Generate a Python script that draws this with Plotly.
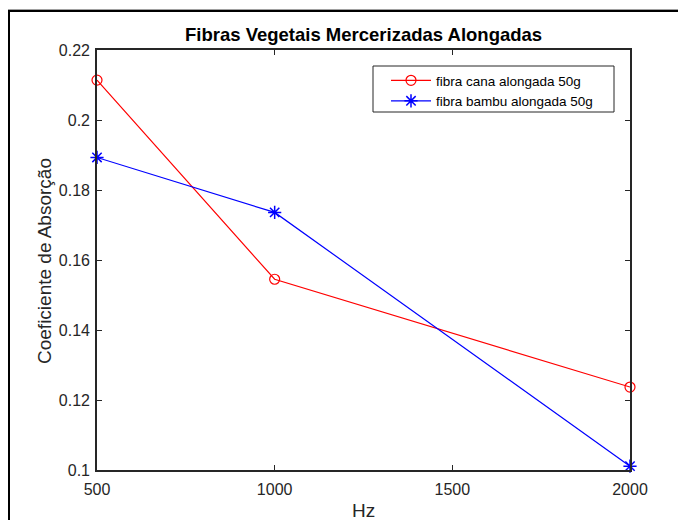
import plotly.graph_objects as go

# Data
freq = [500, 1000, 2000]
cana = [0.2114, 0.1545, 0.1237]
bambu = [0.1893, 0.1736, 0.1011]
series_names = ["fibra cana alongada 50g", "fibra bambu alongada 50g"]
x_ticks = [500, 1000, 1500, 2000]
y_ticks = [0.1, 0.12, 0.14, 0.16, 0.18, 0.2, 0.22]
y_tick_text = ["0.1", "0.12", "0.14", "0.16", "0.18", "0.2", "0.22"]
title_text = "Fibras Vegetais Mercerizadas Alongadas"
x_label = "Hz"
y_label = "Coeficiente de Absorção"

OFF = 8  # page body margin
W, H = 686 - OFF, 520 - OFF
# plot area in page pixels
PL, PR, PT, PB = 97, 630, 50, 470
L, R, T, B = PL - OFF, PR - OFF, PT - OFF, PB - OFF


def px2paper_x(px):  # page px -> paper
    return (px - PL) / (PR - PL)


def px2paper_y(py):
    return (PB - py) / (PB - PT)


FONT = "Liberation Sans, Arial, sans-serif"
AX = "#262626"

fig = go.Figure()
fig.add_trace(go.Scatter(
    x=freq, y=cana, name=series_names[0], mode="lines+markers",
    line=dict(color="#ff0000", width=1.2),
    marker=dict(symbol="circle-open", size=10, color="#ff0000", line=dict(width=1.2, color="#ff0000")),
    cliponaxis=False,
))
fig.add_trace(go.Scatter(
    x=freq, y=bambu, name=series_names[1], mode="lines+markers",
    line=dict(color="#0000ff", width=1.2),
    marker=dict(symbol="asterisk-open", size=11, color="#0000ff", line=dict(width=1.5, color="#0000ff")),
    cliponaxis=False,
))

axis_common = dict(
    showline=True, linecolor=AX, linewidth=1.6, mirror="ticks",
    ticks="inside", ticklen=5, tickwidth=1.3, tickcolor=AX,
    showgrid=False, zeroline=False,
    tickfont=dict(family=FONT, size=16, color=AX),
)

fig.update_layout(
    width=W, height=H,
    margin=dict(l=L, r=W - R, t=T, b=H - B, pad=0),
    paper_bgcolor="white", plot_bgcolor="white",
    showlegend=True,
    legend=dict(
        x=px2paper_x(386), y=px2paper_y(65), xanchor="left", yanchor="top",
        bgcolor="rgba(0,0,0,0)", borderwidth=0,
        font=dict(family=FONT, size=13.5, color="#000000"),
        tracegroupgap=0, itemwidth=40,
    ),
    xaxis=dict(range=[500, 2000], tickvals=x_ticks, ticklabelstandoff=4, **axis_common),
    yaxis=dict(range=[0.1, 0.22], tickvals=y_ticks, ticktext=y_tick_text, ticklabelstandoff=2, **axis_common),
)

# Legend box
fig.add_shape(type="rect", xref="paper", yref="paper", layer="above",
              x0=px2paper_x(373), x1=px2paper_x(614), y0=px2paper_y(66), y1=px2paper_y(112),
              fillcolor="white", line=dict(color=AX, width=1))

fig.add_annotation(
    text="<b>" + title_text + "</b>", xref="paper", yref="paper",
    x=0.5, y=px2paper_y(35), xanchor="center", yanchor="middle",
    showarrow=False, font=dict(family=FONT, size=18.5, color="#000000"),
)
fig.add_annotation(
    text=x_label, xref="paper", yref="paper",
    x=0.5, y=px2paper_y(510), xanchor="center", yanchor="middle",
    showarrow=False, font=dict(family=FONT, size=19, color=AX),
)
fig.add_annotation(
    text=y_label, xref="paper", yref="paper",
    x=px2paper_x(44), y=px2paper_y(261), xanchor="center", yanchor="middle",
    textangle=-90, showarrow=False, font=dict(family=FONT, size=19, color=AX),
)

# Outer frame of the screenshot window
fig.add_shape(type="line", xref="paper", yref="paper",
              x0=px2paper_x(0), x1=px2paper_x(700), y0=px2paper_y(9.5), y1=px2paper_y(9.5),
              line=dict(color="#a0a0a0", width=1))
fig.add_shape(type="line", xref="paper", yref="paper",
              x0=px2paper_x(8), x1=px2paper_x(700), y0=px2paper_y(11), y1=px2paper_y(11),
              line=dict(color="#000000", width=2))
fig.add_shape(type="line", xref="paper", yref="paper",
              x0=px2paper_x(9), x1=px2paper_x(9), y0=px2paper_y(11), y1=px2paper_y(540),
              line=dict(color="#000000", width=2))

fig.write_html("out.html")
